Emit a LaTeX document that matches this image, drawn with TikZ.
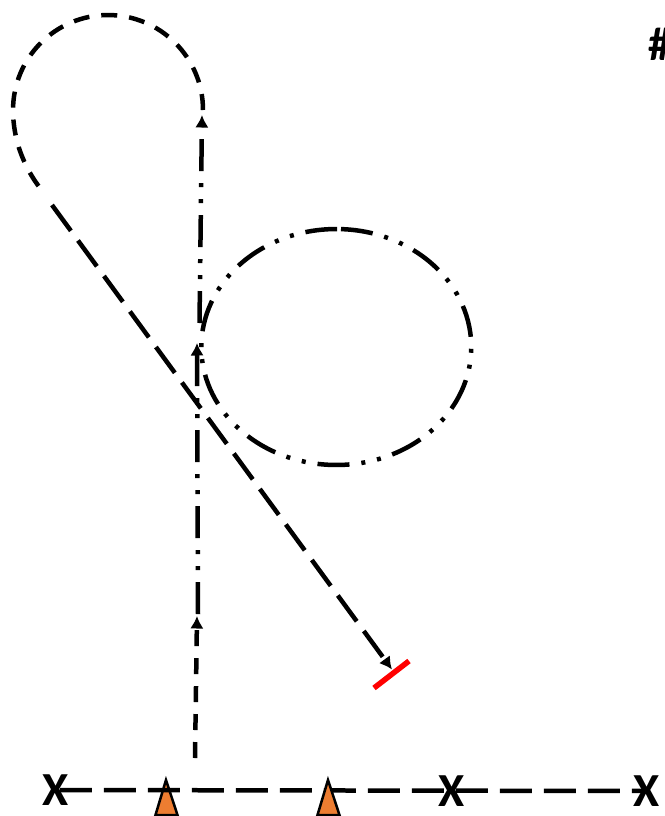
\documentclass[tikz,border=0pt]{standalone}
\usepackage{fontspec}
\setmainfont{Carlito}
\usepackage{tikz}
\usetikzlibrary{arrows.meta}
\definecolor{ink}{HTML}{000000}
\definecolor{stopred}{HTML}{FF0000}
\definecolor{coneorange}{HTML}{ED7D31}
\begin{document}
\begin{tikzpicture}[x=0.02cm,y=-0.02cm,
    route/.style={line width=.09cm,ink},
    shortdash/.style={route,dash pattern=on .32cm off .24cm},
    longdash/.style={route,dash pattern=on .64cm off .24cm},
    dashdot/.style={route,dash pattern=on .64cm off .24cm on .08cm off .24cm on .08cm off .24cm},
    tip/.style={-{Latex[length=.25cm,width=.27cm]}},
    cone/.style={draw=ink,line width=.05cm,fill=coneorange},
    mark label/.style={font=\fontsize{27}{27}\selectfont\bfseries,inner sep=0pt,ink}]
        \useasboundingbox (0,0) rectangle (664,816);
        % cones and field line
        \filldraw[cone] (166,780) -- (155.5,815) -- (177.5,815) -- cycle;
        \node[mark label] (xa) at (56,790) {X};
        \node[mark label] (xb) at (452,791) {X};
        \node[mark label] (xc) at (647,791) {X};
        \draw[longdash,dash phase=.8cm] (xa.center) -- (xc.center);
        \filldraw[cone] (328,780) -- (317.5,815) -- (339.5,815) -- cycle;
        \node[mark label,anchor=west] (tag) at (648,44) {\#};
        % way up
        \coordinate (start) at (195,758);
        \coordinate (lowtip) at (197,616);
        \coordinate (midstart) at (198,614);
        \coordinate (midtip) at (197,343);
        \coordinate (topstart) at (199.5,323);
        \coordinate (toptip) at (202,115);
        \draw[shortdash,tip] (start) -- (lowtip);
        \draw[dashdot,tip] (midstart) -- (midtip);
        \draw[dashdot,tip] (topstart) -- (toptip);
        % orbit
        \draw[dashdot] (341,229.1) arc[start angle=88,end angle=-272,x radius=2.7cm,y radius=2.36cm];
        % loop and way down
        \draw[shortdash] (203,110) arc[start angle=0,end angle=180,radius=1.9cm]
          .. controls (13,140) and (24,167) .. (40,188);
        \coordinate (downstart) at (52,205);
        \coordinate (downtip) at (392,669.5);
        \draw[longdash,tip] (downstart) -- (downtip);
        \coordinate (stopa) at (374,688);
        \coordinate (stopb) at (409,661);
        \draw[line width=.11cm,stopred] (stopa) -- (stopb);
      \end{tikzpicture}
\end{document}
